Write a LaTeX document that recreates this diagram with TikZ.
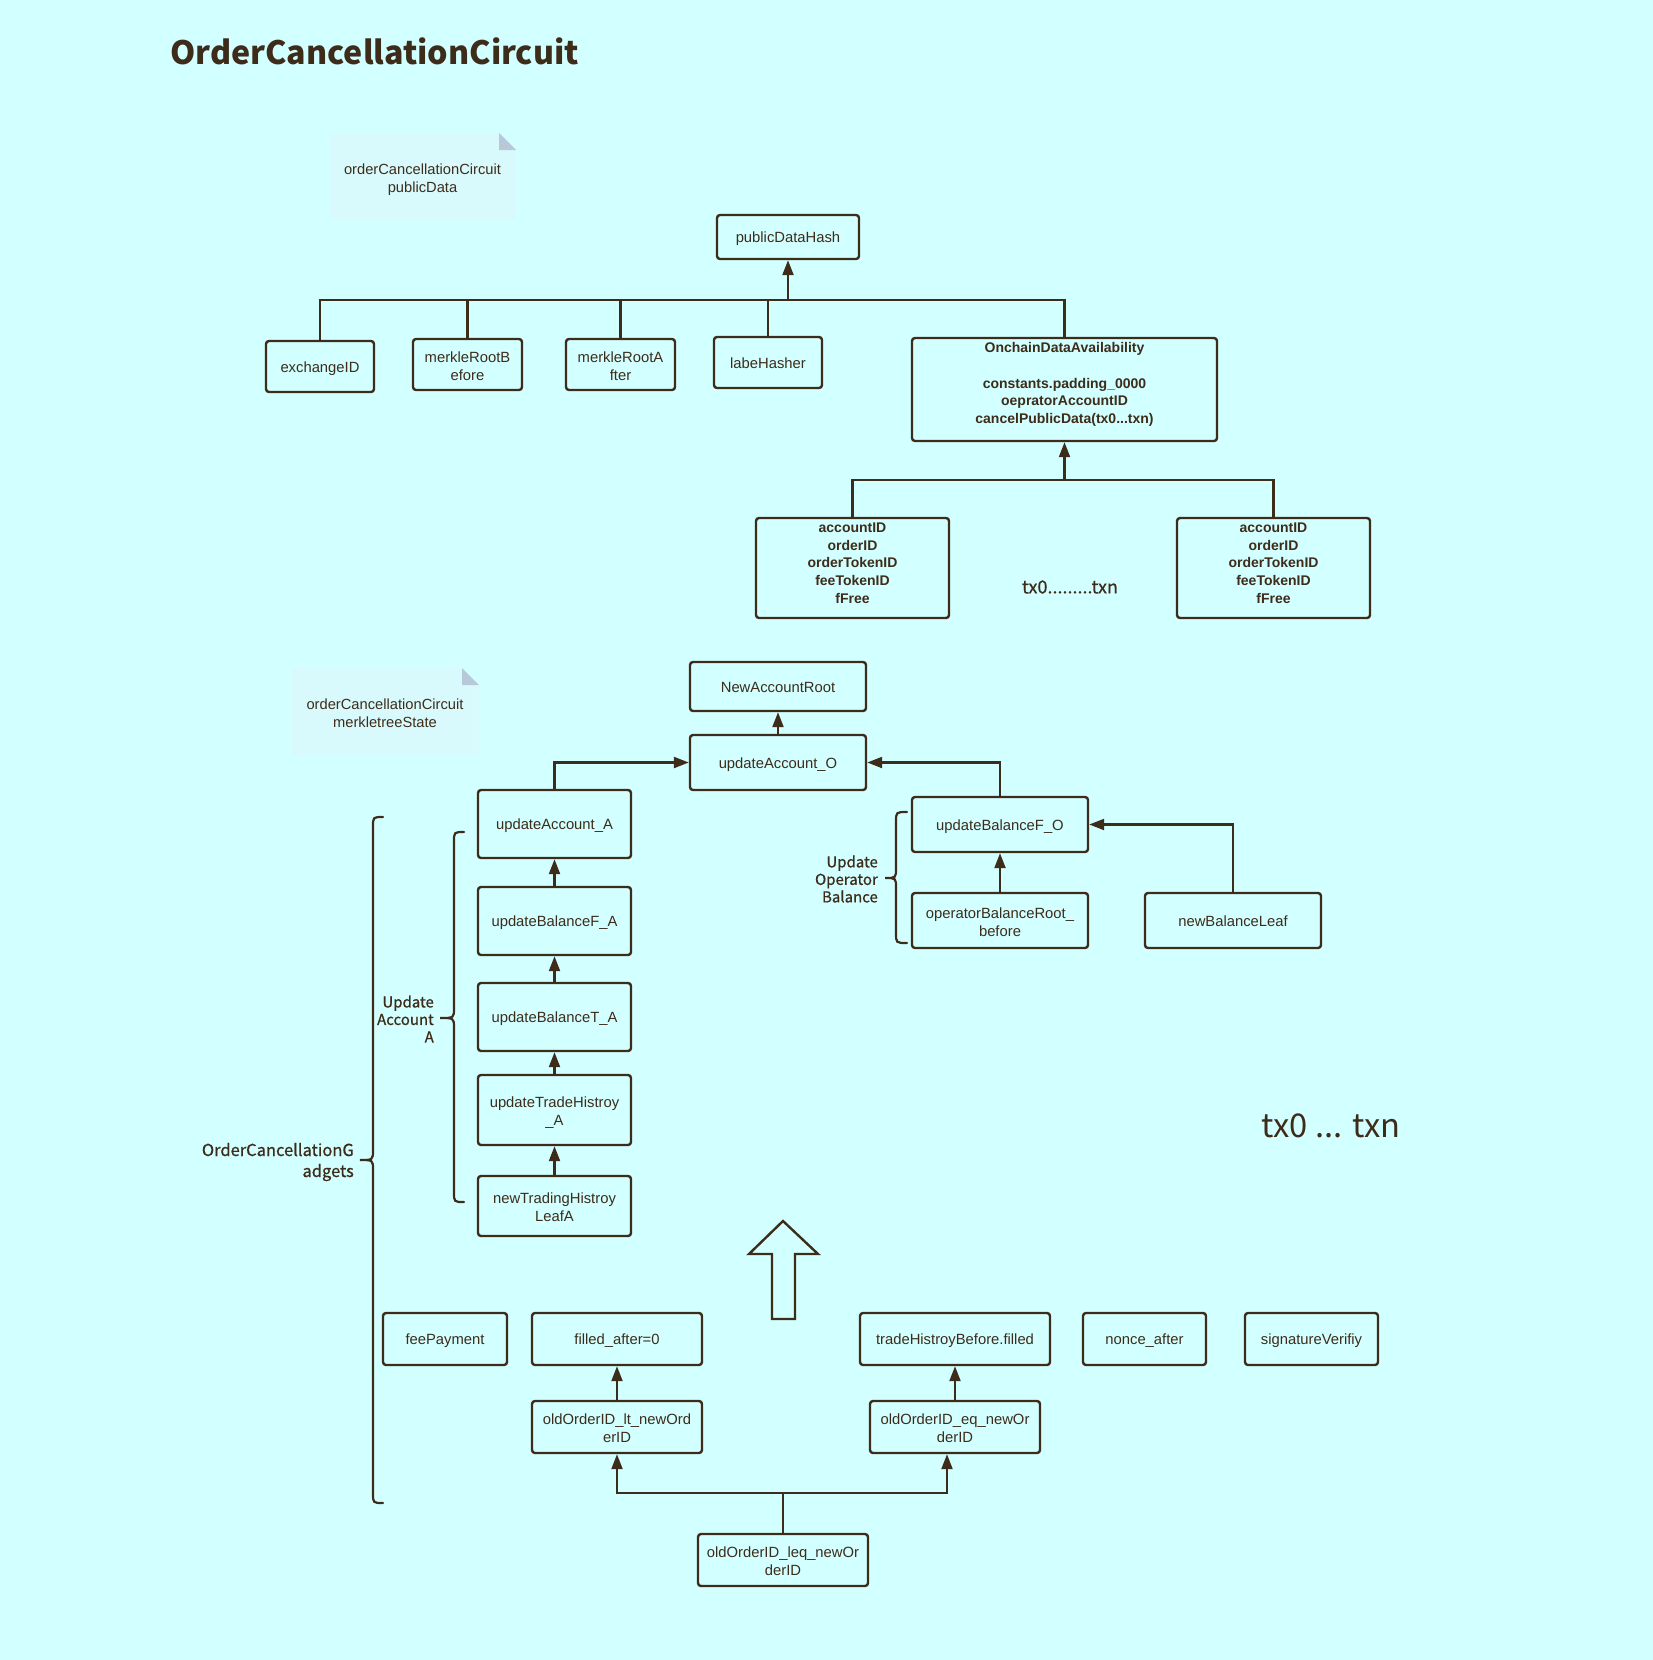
\documentclass[tikz,border=0pt]{standalone}
\usepackage{fontspec}
\setmainfont{Liberation Sans}
\newfontfamily\cjkf{Noto Sans CJK SC}
\newfontfamily\cjkm{Noto Sans CJK SC}[FakeBold=0.7]
\usetikzlibrary{arrows.meta}

\definecolor{bg}{HTML}{D2FFFF}
\definecolor{ink}{HTML}{3E2C1A}
\definecolor{notefill}{HTML}{D9FAFC}
\definecolor{fold}{HTML}{B7C9D9}

% strut for the first line of two-line box labels
\newcommand\topstrut{\rule{0pt}{16.5pt}}

\tikzset{
  box/.style={draw=ink, line width=2.4pt, rounded corners=3pt, fill=bg, text=ink,
    align=center, inner sep=0pt, font=\fontsize{14.8}{18}\selectfont,
    execute at begin node={\rule{0pt}{15pt}},
    execute at end node={\rule[-3.5pt]{0pt}{3.5pt}}},
  boldtext/.style={text=ink, align=center, inner sep=0pt,
    font=\fontsize{14}{17.7}\selectfont\bfseries},
  notetext/.style={text=ink, align=center, inner sep=0pt,
    font=\fontsize{14.7}{18}\selectfont},
  grouplabel/.style={text=ink, align=right, inner sep=0pt, anchor=east,
    font={\cjkm\fontsize{15}{17.5}\selectfont}},
  conn/.style={draw=ink, line width=2.2pt},
  arr/.style={conn, -{Triangle[length=15pt,width=11pt]}},
  bracepath/.style={draw=ink, line width=2.2pt, line cap=round},
}

% curly brace: end x, spine x, tip x, top y, tip y, bottom y
\newcommand\grpbrace[6]{%
  \draw[bracepath] (#1,#4) .. controls (#2,#4) .. (#2,#4+10) -- (#2,#5-10)
    .. controls (#2,#5) .. (#3,#5) .. controls (#2,#5) .. (#2,#5+10)
    -- (#2,#6-10) .. controls (#2,#6) .. (#1,#6);}

% sticky note with a folded corner
\newcommand\stickynote[4]{%
  \fill[notefill] (#1,#2) -- (#3-17,#2) -- (#3,#2+17) -- (#3,#4) -- (#1,#4) -- cycle;
  \fill[fold] (#3-17,#2) -- (#3-17,#2+17) -- (#3,#2+17) -- cycle;}

\begin{document}
\begin{tikzpicture}[x=1pt,y=-1pt]
\fill[bg] (0,0) rectangle (1653,1660);
\useasboundingbox (0,0) rectangle (1653,1660);

% title
\node[anchor=base west, text=ink, inner sep=0pt,
  font={\cjkf\fontsize{32.2}{38}\selectfont\bfseries}] (title) at (170,64)
  {OrderCancellationCircuit};

% ---------- public data ----------
\stickynote{329}{133}{516}{219}
\node[notetext] (note1) at (422.5,179.5) {orderCancellationCircuit\\publicData};

\node[box, minimum width=142, minimum height=44] (pdh) at (788,237) {publicDataHash};

\node[box, minimum width=108, minimum height=51] (exch) at (320,366.5) {exchangeID};
\node[box, minimum width=109, minimum height=51] (mrb) at (467.5,364.5) {\topstrut merkleRootB\\efore};
\node[box, minimum width=109, minimum height=51] (mra) at (620.5,364.5) {\topstrut merkleRootA\\fter};
\node[box, minimum width=108, minimum height=51] (labe) at (768,362.5) {labeHasher};
\node[box, minimum width=305, minimum height=103] (oda) at (1064.5,389.5) {};
\node[boldtext] (odatext) at (1064.5,384.5)
  {OnchainDataAvailability\\[17.5pt]constants.padding\_0000\\oepratorAccountID\\cancelPublicData(tx0...txn)};

\coordinate (busTop) at (788,300);
\foreach \n in {exch,mrb,mra,labe,oda} \draw[conn] (\n.north) |- (busTop);
\draw[arr] (busTop) -- (pdh.south);

\node[box, minimum width=193, minimum height=100] (txl) at (852.5,568) {};
\node[boldtext] (txltext) at (852.5,563) {accountID\\orderID\\orderTokenID\\feeTokenID\\fFree};
\node[box, minimum width=193, minimum height=100] (txr) at (1273.5,568) {};
\node[boldtext] (txrtext) at (1273.5,563) {accountID\\orderID\\orderTokenID\\feeTokenID\\fFree};
\node[text=ink, inner sep=0pt, font={\cjkm\fontsize{18}{20}\selectfont}] (txdots) at (1070,587) {tx0.........txn};

\coordinate (busTx) at (1064.5,480);
\draw[conn] (txl.north) |- (busTx);
\draw[conn] (txr.north) |- (busTx);
\draw[arr] (busTx) -- (oda.south);

% ---------- merkle tree state ----------
\stickynote{292}{668}{479}{755}
\node[notetext] (note2) at (385,713) {orderCancellationCircuit\\merkletreeState};

\node[box, minimum width=176, minimum height=49] (nar) at (778,686.5) {NewAccountRoot};
\node[box, minimum width=176, minimum height=55] (uao) at (778,762.5) {updateAccount\_O};

\node[box, minimum width=153, minimum height=68] (uaa) at (554.5,824) {updateAccount\_A};
\node[box, minimum width=153, minimum height=68] (ubfa) at (554.5,921) {updateBalanceF\_A};
\node[box, minimum width=153, minimum height=68] (ubta) at (554.5,1017) {updateBalanceT\_A};
\node[box, minimum width=153, minimum height=70] (utha) at (554.5,1110) {\topstrut updateTradeHistroy\\\_A};
\node[box, minimum width=153, minimum height=60] (ntl) at (554.5,1206) {\topstrut newTradingHistroy\\LeafA};

\node[box, minimum width=176, minimum height=55] (ubfo) at (1000,824.5) {updateBalanceF\_O};
\node[box, minimum width=176, minimum height=55] (obr) at (1000,920.5) {\topstrut operatorBalanceRoot\_\\before};
\node[box, minimum width=176, minimum height=55] (nbl) at (1233,920.5) {newBalanceLeaf};

\draw[arr] (uao.north) -- (nar.south);
\draw[arr] (uaa.north) |- (uao.west);
\draw[arr] (ubfo.north) |- (uao.east);
\draw[arr] (ubfa.north) -- (uaa.south);
\draw[arr] (ubta.north) -- (ubfa.south);
\draw[arr] (utha.north) -- (ubta.south);
\draw[arr] (ntl.north) -- (utha.south);
\draw[arr] (obr.north) -- (ubfo.south);
\draw[arr] (nbl.north) |- (ubfo.east);

% braces and their labels
\grpbrace{907}{896}{885}{812}{878}{943}
\node[grouplabel] (lblop) at (878,879) {Update\\Operator\\Balance};
\grpbrace{464}{454}{440}{832}{1018}{1202}
\node[grouplabel] (lblacc) at (434,1019) {Update\\Account\\A};
\grpbrace{383}{373}{360}{817}{1160}{1503}
\node[grouplabel, font={\cjkm\fontsize{16.5}{21}\selectfont}] (lblgad) at (354,1162)
  {OrderCancellationG\\adgets};

\node[anchor=base, text=ink, inner sep=0pt, font={\cjkf\fontsize{32.7}{36}\selectfont}] (txbig)
  at (1331,1137) {tx0 ... txn};

% hollow up arrow
\draw[ink, line width=2.4pt, fill=bg] (783,1221) -- (818,1254) -- (795,1254) -- (795,1319)
  -- (772,1319) -- (772,1254) -- (749,1254) -- cycle;

% ---------- gadgets ----------
\node[box, minimum width=124, minimum height=52] (fee) at (445,1339) {feePayment};
\node[box, minimum width=170, minimum height=52] (fa0) at (617,1339) {filled\_after=0};
\node[box, minimum width=190, minimum height=52] (thb) at (955,1339) {tradeHistroyBefore.filled};
\node[box, minimum width=123, minimum height=52] (nonce) at (1144.5,1339) {nonce\_after};
\node[box, minimum width=133, minimum height=52] (sig) at (1311.5,1339) {signatureVerifiy};

\node[box, minimum width=170, minimum height=52] (lt) at (617,1427) {\topstrut oldOrderID\_lt\_newOrd\\erID};
\node[box, minimum width=170, minimum height=52] (eq) at (955,1427) {\topstrut oldOrderID\_eq\_newOr\\derID};
\node[box, minimum width=170, minimum height=52] (leq) at (783,1560) {\topstrut oldOrderID\_leq\_newOr\\derID};

\draw[arr] (lt.north) -- (fa0.south);
\draw[arr] (eq.north) -- (thb.south);
\coordinate (busLeq) at (783,1493);
\draw[conn] (leq.north) -- (busLeq);
\draw[arr] (busLeq) -| (lt.south);
\draw[arr] (busLeq) -| ([xshift=-8pt]eq.south);
\end{tikzpicture}
\end{document}
